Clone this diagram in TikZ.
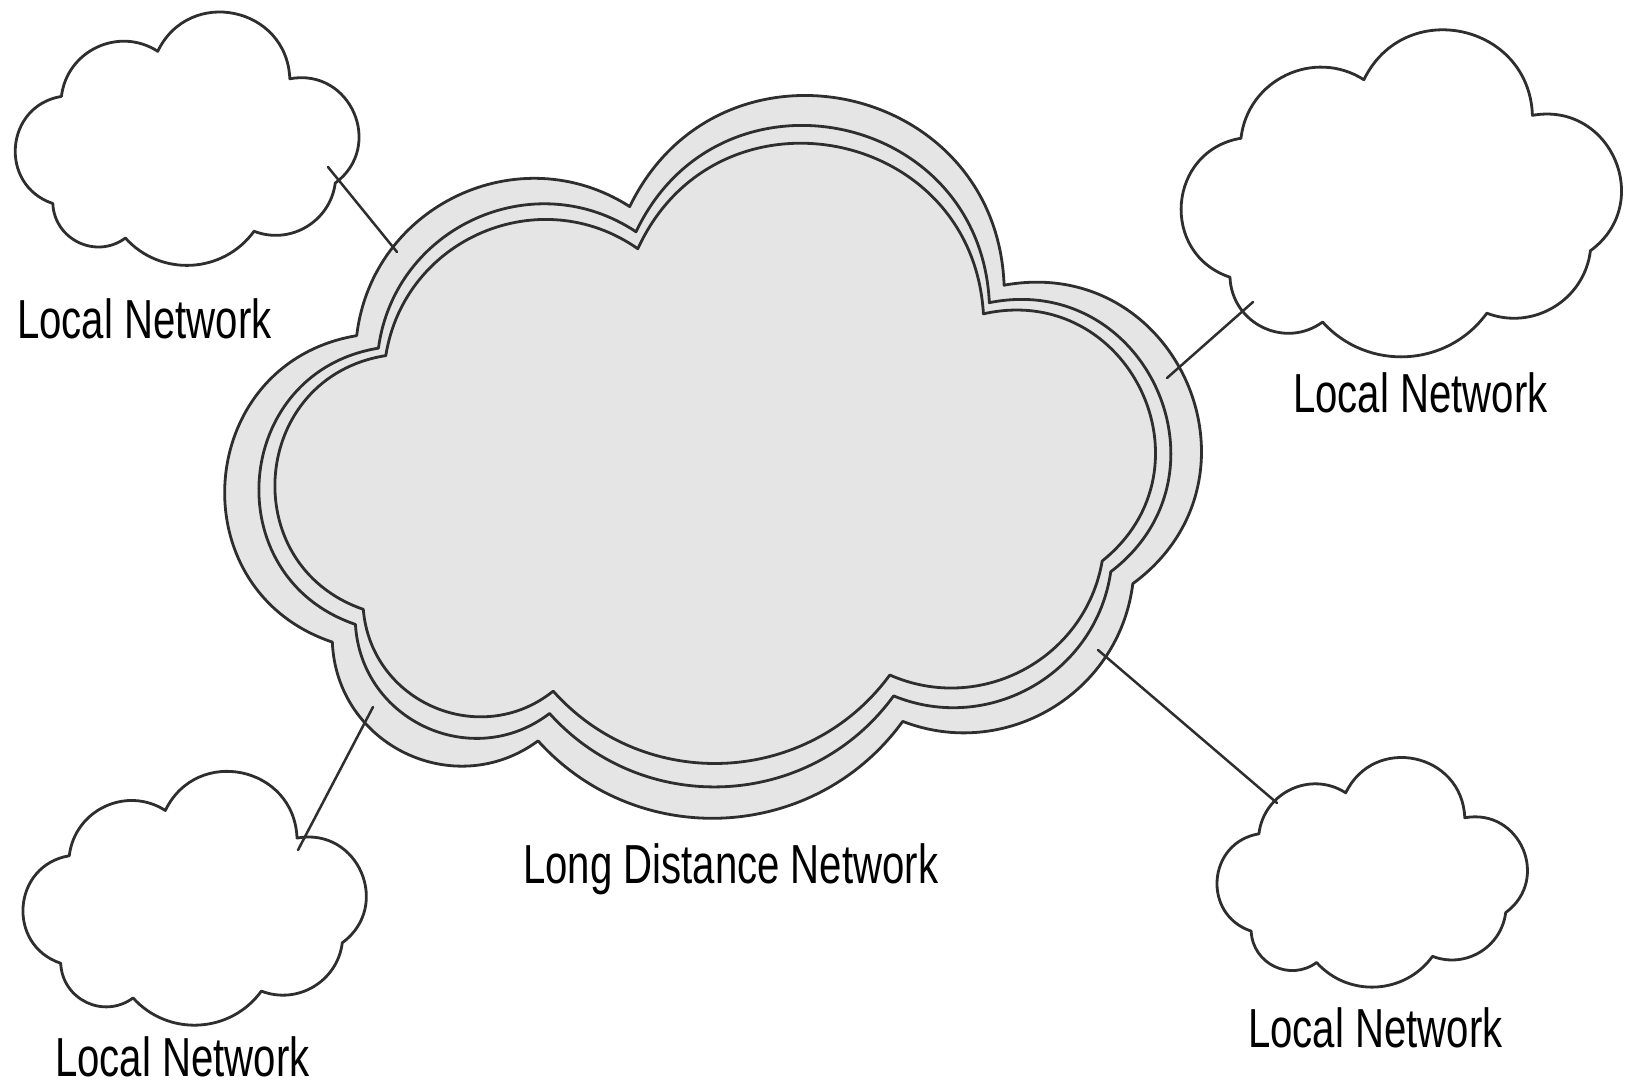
\documentclass[tikz,border=0pt]{standalone}
\usepackage{fontspec}
\setmainfont{Liberation Sans}
\newfontfamily\labelfont[FakeStretch=0.73]{Liberation Sans}

% Each cloud is built from seven arcs between seven cusps; the cusps sit at
% fixed fractions of the cloud's bounding box (left, top, width, height).
\tikzset{
  lobe ul/.style={bend right=58, looseness=1.113},
  lobe l/.style={bend right=76, looseness=1.371},
  lobe bl/.style={bend right=62, looseness=1.159},
  lobe b/.style={bend right=51, looseness=1.045},
  lobe br/.style={bend right=52, looseness=1.054},
  lobe r/.style={bend right=77, looseness=1.390},
  lobe t/.style={bend right=76, looseness=1.371},
  outline/.style={draw=black!82, line width=2.8pt, line join=round},
  wan/.style={outline, fill=black!10},
  lan/.style={outline},
  link/.style={draw=black!82, line width=2.5pt, line cap=round},
  caption/.style={inner sep=0pt, anchor=base west, text depth=0pt,
    font=\labelfont\fontsize{55}{60}\selectfont}
}

\newcommand\cloudshape[6]{% name, left, top, width, height, style
  \coordinate (#1-a) at ({#2+0.412*#4},{-(#3+0.152*#5)});
  \coordinate (#1-b) at ({#2+0.132*#4},{-(#3+0.331*#5)});
  \coordinate (#1-c) at ({#2+0.107*#4},{-(#3+0.756*#5)});
  \coordinate (#1-d) at ({#2+0.318*#4},{-(#3+0.893*#5)});
  \coordinate (#1-e) at ({#2+0.692*#4},{-(#3+0.866*#5)});
  \coordinate (#1-f) at ({#2+0.928*#4},{-(#3+0.675*#5)});
  \coordinate (#1-g) at ({#2+0.796*#4},{-(#3+0.261*#5)});
  \path[#6] (#1-a) to[lobe ul] (#1-b) to[lobe l] (#1-c) to[lobe bl] (#1-d)
    to[lobe b] (#1-e) to[lobe br] (#1-f) to[lobe r] (#1-g) to[lobe t] (#1-a)
    -- cycle;
}

\begin{document}
\begin{tikzpicture}[x=1pt, y=1pt]
  \useasboundingbox[fill=white] (0,0) rectangle (1625,-1085);

  % long distance network: three nested outlines
  \cloudshape{wanouter}{228}{97}{975}{721}{wan}
  \cloudshape{wanmiddle}{257}{133}{920}{650}{wan}
  \cloudshape{waninner}{267}{158}{900}{597}{wan}

  % local networks
  \cloudshape{lantl}{16}{13}{344}{252}{lan}
  \cloudshape{lantr}{1183}{30}{439}{327}{lan}
  \cloudshape{lanbl}{24}{772}{343}{253}{lan}
  \cloudshape{lanbr}{1218}{758}{310}{229}{lan}

  % attachment points of the links
  \coordinate (tl-lan) at (328,-167);
  \coordinate (tl-wan) at (397,-252);
  \coordinate (tr-lan) at (1253,-302);
  \coordinate (tr-wan) at (1167,-378);
  \coordinate (bl-lan) at (298,-850);
  \coordinate (bl-wan) at (373,-707);
  \coordinate (br-lan) at (1277,-803);
  \coordinate (br-wan) at (1098,-650);

  \draw[link] (tl-lan) -- (tl-wan);
  \draw[link] (tr-lan) -- (tr-wan);
  \draw[link] (bl-lan) -- (bl-wan);
  \draw[link] (br-lan) -- (br-wan);

  % captions
  \node[caption] (cap-tl) at (17,-338) {Local Network};
  \node[caption] (cap-tr) at (1293,-412) {Local Network};
  \node[caption] (cap-bl) at (55,-1076) {Local Network};
  \node[caption] (cap-br) at (1248,-1047) {Local Network};
  \node[caption] (cap-wan) at (523,-883) {Long Distance Network};
\end{tikzpicture}
\end{document}
